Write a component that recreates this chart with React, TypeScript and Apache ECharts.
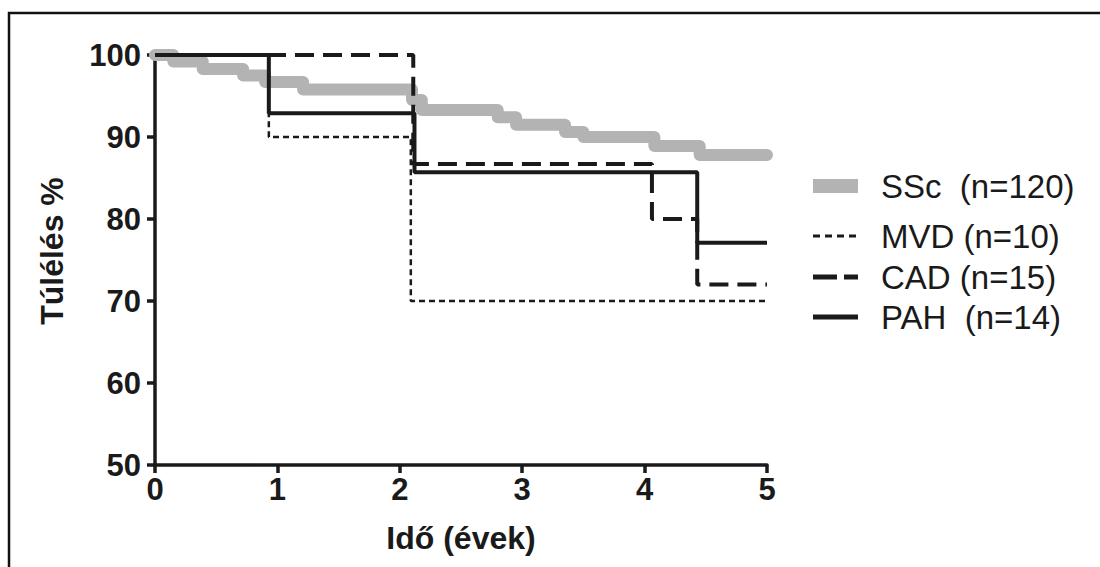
import React, { useEffect, useRef } from "react";
import * as echarts from "echarts";

// Kaplan–Meier survival data (time in years, survival %)
const sscTime = [0, 0.15, 0.39, 0.72, 0.9, 1.21, 2.1, 2.18, 2.8, 2.95, 3.35, 3.5, 4.08, 4.45, 5];
const sscSurv = [100, 99.2, 98.3, 97.5, 96.7, 95.8, 94.5, 93.3, 92.4, 91.5, 90.6, 90.0, 88.9, 87.8, 87.8];

const mvdTime = [0, 0.93, 2.09, 5];
const mvdSurv = [100, 90, 70, 70];

const cadTime = [0, 2.11, 4.06, 4.43, 5];
const cadSurv = [100, 86.7, 80, 72, 72];

const pahTime = [0, 0.93, 2.12, 4.43, 5];
const pahSurv = [100, 92.9, 85.7, 77.1, 77.1];

const legendLabels = ["SSc  (n=120)", "MVD (n=10)", "CAD (n=15)", "PAH  (n=14)"];
const xTitle = "Idő (évek)";
const yTitle = "Túlélés %";

const FONT = "'Liberation Sans', Arial, Helvetica, sans-serif";
const INK = "#1a1a1a";
const GREY = "#b3b3b3";

const pairs = (t: number[], s: number[]) => t.map((v, i) => [v, s[i]]);

export default function App() {
  const ref = useRef<HTMLDivElement>(null);

  useEffect(() => {
    if (!ref.current) return;
    const chart = echarts.init(ref.current, null, { renderer: "svg" });

    const legendX1 = 813;
    const legendX2 = 858;
    const textX = 881;
    const rowY = [186, 236, 277, 317];

    chart.setOption({
      animation: false,
      backgroundColor: "#ffffff",
      grid: { left: 155, right: 333, top: 55, bottom: 102, containLabel: false },
      xAxis: {
        type: "value",
        min: 0,
        max: 5,
        interval: 1,
        name: xTitle,
        nameLocation: "middle",
        nameGap: 57,
        nameTextStyle: { fontFamily: FONT, fontWeight: "bold", fontSize: 32, color: INK },
        axisLine: { lineStyle: { color: INK, width: 3.5 } },
        axisTick: { length: 8, lineStyle: { color: INK, width: 3.5 } },
        axisLabel: { margin: 9, fontFamily: FONT, fontWeight: "bold", fontSize: 31, color: INK },
        splitLine: { show: false },
      },
      yAxis: {
        type: "value",
        min: 50,
        max: 100,
        interval: 10,
        axisLine: { lineStyle: { color: INK, width: 3.5 } },
        axisTick: { length: 8, lineStyle: { color: INK, width: 3.5 } },
        axisLabel: { margin: 14, fontFamily: FONT, fontWeight: "bold", fontSize: 31, color: INK },
        splitLine: { show: false },
      },
      series: [
        {
          name: "SSc",
          type: "line",
          step: "end",
          clip: false,
          symbol: "none",
          data: pairs(sscTime, sscSurv),
          lineStyle: { color: GREY, width: 12, cap: "round", join: "round" },
          z: 1,
        },
        {
          name: "MVD",
          type: "line",
          step: "end",
          clip: false,
          symbol: "none",
          data: pairs(mvdTime, mvdSurv),
          lineStyle: { color: INK, width: 2.5, type: [6, 4] },
          z: 2,
        },
        {
          name: "CAD",
          type: "line",
          step: "end",
          clip: false,
          symbol: "none",
          data: pairs(cadTime, cadSurv),
          lineStyle: { color: INK, width: 4, type: [19, 9] },
          z: 3,
        },
        {
          name: "PAH",
          type: "line",
          step: "end",
          clip: false,
          symbol: "none",
          data: pairs(pahTime, pahSurv),
          lineStyle: { color: INK, width: 4 },
          z: 4,
        },
      ],
      graphic: [
        {
          type: "polyline",
          shape: { points: [[9, 700], [9, 13], [1120, 13]] },
          style: { fill: "none", stroke: "#111", lineWidth: 2.5 },
          silent: true,
        },
        {
          type: "text",
          x: 52,
          y: 251,
          rotation: Math.PI / 2,
          style: {
            text: yTitle,
            fontFamily: FONT,
            fontWeight: "bold",
            fontSize: 32,
            fill: INK,
            align: "center",
            verticalAlign: "middle",
          },
        },
        {
          type: "rect",
          shape: { x: legendX1, y: rowY[0] - 7, width: legendX2 - legendX1, height: 14 },
          style: { fill: GREY },
        },
        {
          type: "line",
          shape: { x1: legendX1, y1: rowY[1], x2: legendX2, y2: rowY[1] },
          style: { stroke: INK, lineWidth: 3, lineDash: [7, 5] },
        },
        {
          type: "line",
          shape: { x1: legendX1, y1: rowY[2], x2: legendX2, y2: rowY[2] },
          style: { stroke: INK, lineWidth: 5, lineDash: [24, 7] },
        },
        {
          type: "line",
          shape: { x1: legendX1, y1: rowY[3], x2: legendX2, y2: rowY[3] },
          style: { stroke: INK, lineWidth: 5 },
        },
        ...legendLabels.map((label, i) => ({
          type: "text",
          x: textX,
          y: rowY[i],
          style: {
            text: label,
            fontFamily: FONT,
            fontSize: 33,
            fill: INK,
            align: "left",
            verticalAlign: "middle",
          },
        })),
      ],
    });

    return () => chart.dispose();
  }, []);

  return (
    <div
      ref={ref}
      style={{ position: "fixed", left: 0, top: 0, width: 1100, height: 567, background: "#fff" }}
    />
  );
}
